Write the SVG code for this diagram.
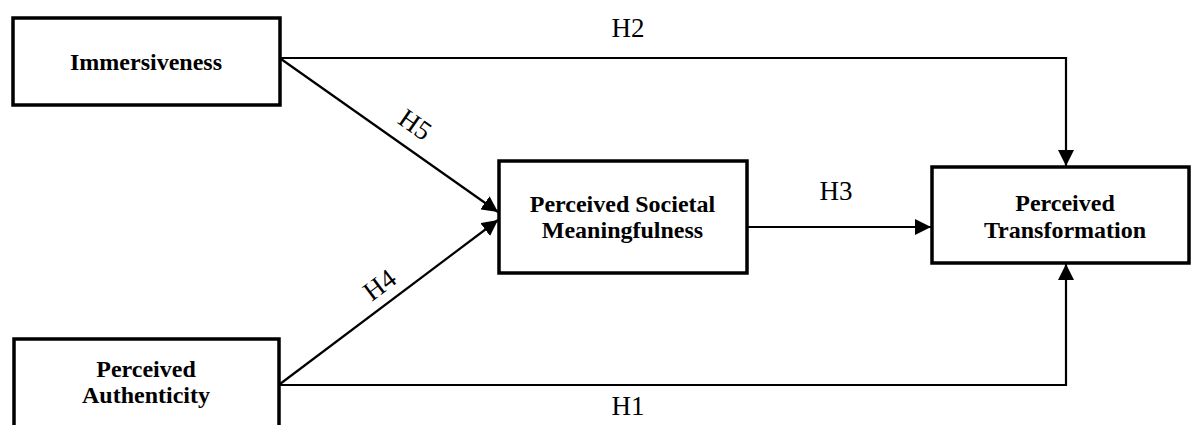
<svg xmlns="http://www.w3.org/2000/svg" width="1191" height="425" viewBox="0 0 1191 425">
<style>
.box{fill:#fff;stroke:#000;stroke-width:3.5}
.lbl{font-family:"Liberation Serif","Times New Roman",serif;font-weight:bold;font-size:24px;fill:#000;text-anchor:middle}
.h{font-family:"Liberation Serif","Times New Roman",serif;font-size:27px;fill:#000;text-anchor:middle}
.ln{fill:none;stroke:#000;stroke-width:2.2}
</style>
<defs>
<marker id="arr" markerUnits="userSpaceOnUse" markerWidth="16" markerHeight="16" viewBox="0 0 16 16" refX="16" refY="8" orient="auto">
<path d="M0,0 L16,8 L0,16 Z" fill="#000"/>
</marker>
</defs>
<g id="connectors">
<polyline class="ln" points="281,58 1066,58 1066,166" marker-end="url(#arr)"/>
<line class="ln" x1="281" y1="59" x2="498" y2="212" marker-end="url(#arr)"/>
<line class="ln" x1="280" y1="384" x2="498" y2="220" marker-end="url(#arr)"/>
<line class="ln" x1="748" y1="227" x2="931" y2="227" marker-end="url(#arr)"/>
<polyline class="ln" points="280,385 1066,385 1066,264" marker-end="url(#arr)"/>
<text class="h" x="628" y="37">H2</text>
<text class="h" x="836" y="200">H3</text>
<text class="h" x="628" y="415">H1</text>
<text class="h" transform="translate(410,132) rotate(35)">H5</text>
<text class="h" transform="translate(385,292) rotate(-37)">H4</text>
</g>
<g id="immersiveness">
<rect class="box" x="13" y="18" width="267" height="87"/>
<text class="lbl" x="146" y="70">Immersiveness</text>
</g>
<g id="authenticity">
<rect class="box" x="14" y="339" width="265" height="100"/>
<text class="lbl" x="146" y="377">Perceived</text>
<text class="lbl" x="146" y="403">Authenticity</text>
</g>
<g id="meaningfulness">
<rect class="box" x="499" y="161" width="248" height="112"/>
<text class="lbl" x="622.5" y="212">Perceived Societal</text>
<text class="lbl" x="622.5" y="238">Meaningfulness</text>
</g>
<g id="transformation">
<rect class="box" x="932" y="167" width="257" height="96"/>
<text class="lbl" x="1065" y="211">Perceived</text>
<text class="lbl" x="1065" y="238">Transformation</text>
</g>
</svg>
